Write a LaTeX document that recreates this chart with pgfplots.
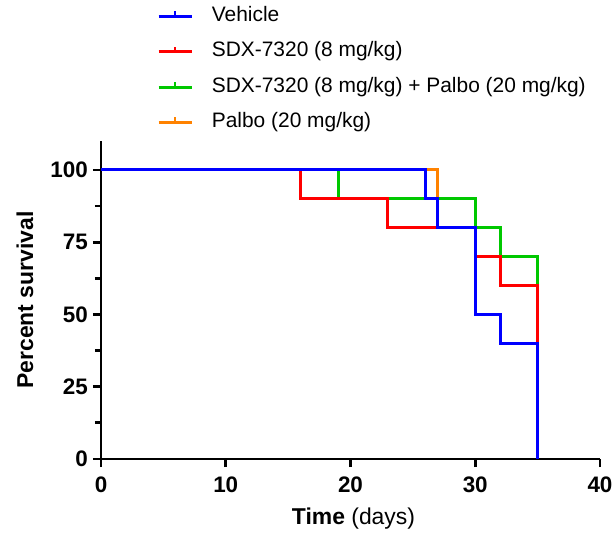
\documentclass[border=0pt]{standalone}
\usepackage{fontspec}
\setmainfont{Liberation Sans}
\usepackage{pgfplots}
\pgfplotsset{compat=1.18}
\definecolor{cblue}{RGB}{0,0,255}
\definecolor{cred}{RGB}{255,0,0}
\definecolor{cgreen}{RGB}{0,200,0}
\definecolor{corange}{RGB}{255,130,0}
\begin{document}
\begin{tikzpicture}
\begin{axis}[
  name=ax,
  width=499bp, height=318bp, scale only axis,
  xmin=0, xmax=40, ymin=0, ymax=110,
  axis lines=left,
  axis line style={line width=2.8bp, -},
  xtick={0,10,20,30,40}, ytick={0,25,50,75,100},
  minor ytick={12.5,37.5,62.5,87.5},
  tick style={line width=2.8bp, black},
  tick align=outside,
  major tick length=8bp, minor tick length=6bp,
  ticklabel style={font=\fontsize{22.5}{24}\selectfont\bfseries, inner sep=0pt},
  xticklabel style={yshift=-10bp},
  yticklabel style={xshift=-5bp},
  /pgf/number format/assume math mode=true,
  xlabel={\textbf{Time} (days)},
  ylabel={\textbf{Percent survival}},
  every axis x label/.style={at={(axis description cs:0.506,-0.2075)}, anchor=base, font=\fontsize{23}{24}\selectfont},
  every axis y label/.style={at={(axis description cs:-0.1523,0.5)}, rotate=90, anchor=center, font=\fontsize{23}{24}\selectfont},
  legend style={at={(axis description cs:0.1122,1.43)}, anchor=north west, draw=none, fill=none, inner sep=0pt,
    font=\fontsize{21}{24}\selectfont, row sep=11.3bp,
    nodes={inner sep=2bp, text height=15bp, text depth=5bp}},
  legend cell align=left,
  legend image code/.code={
    \draw[#1, line width=3bp] (0bp,0bp) -- (33bp,0bp);
    \draw[#1, line width=1.5bp] (16.5bp,0bp) -- (16.5bp,5bp);
    \path (51bp,0bp);
  },
]
\addlegendimage{cblue}
\addlegendentry{Vehicle}
\addlegendimage{cred}
\addlegendentry{SDX-7320 (8 mg/kg)}
\addlegendimage{cgreen}
\addlegendentry{SDX-7320 (8 mg/kg) + Palbo (20 mg/kg)}
\addlegendimage{corange}
\addlegendentry{Palbo (20 mg/kg)}
\addplot[corange, line width=3bp, const plot, forget plot] coordinates {(0,100)(27,90)(30,80)(32,70)(35,0)};
\addplot[cgreen, line width=3bp, const plot, forget plot] coordinates {(0,100)(19,90)(30,80)(32,70)(35,0)};
\addplot[cred, line width=3bp, const plot, forget plot] coordinates {(0,100)(16,90)(23,80)(30,70)(32,60)(35,0)};
\addplot[cblue, line width=3bp, const plot, forget plot] coordinates {(0,100)(26,90)(27,80)(30,50)(32,40)(35,0)};
\end{axis}
\pgfresetboundingbox
\path ([shift={(-101bp,-74bp)}]ax.south west) rectangle ([shift={(14bp,141bp)}]ax.north east);
\end{tikzpicture}
\end{document}
